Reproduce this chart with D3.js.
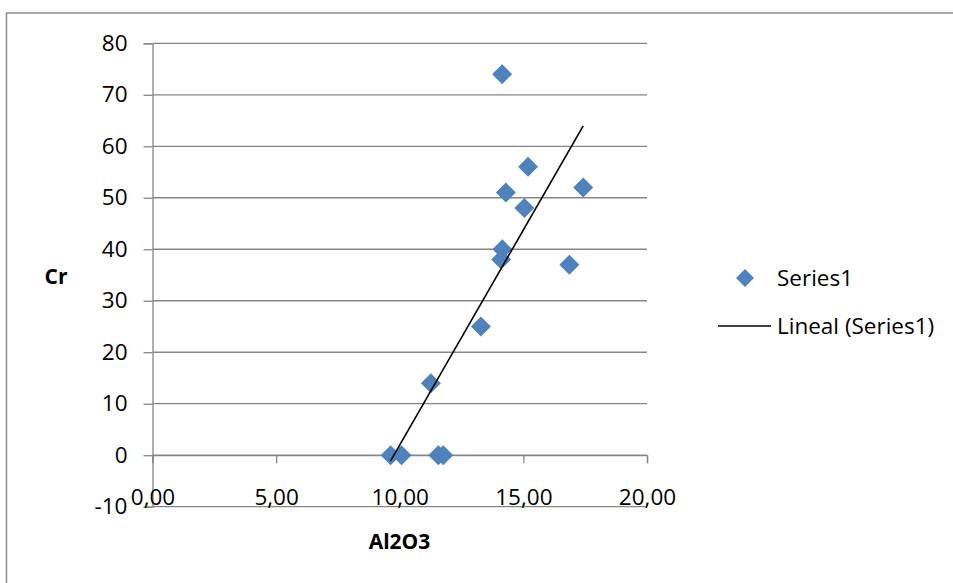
<!DOCTYPE html>
<html>
<head>
<meta charset="utf-8">
<script src="https://cdn.jsdelivr.net/npm/d3@7"></script>
<style>
  html, body { margin: 0; padding: 0; background: #fff; }
  svg { display: block; font-family: "Open Sans", sans-serif; }
</style>
</head>
<body>
<script>
// Al2O3 vs Cr samples
const al2o3 = [14.14, 15.19, 17.42, 14.29, 15.04, 14.15, 14.10, 16.86, 13.28, 11.26, 9.63, 10.07, 11.56, 11.76];
const cr    = [74, 56, 52, 51, 48, 40, 38, 37, 25, 14, 0, 0, 0, 0];

const xTicks = [0, 5, 10, 15, 20];
const yTicks = [-10, 0, 10, 20, 30, 40, 50, 60, 70, 80];
const seriesName = "Series1";
const trendName = "Lineal (Series1)";

const W = 953, H = 583;
const FONT = "'Open Sans', sans-serif";
const LABEL_SIZE = 22.5;
const svg = d3.select("body").append("svg").attr("width", W).attr("height", H);

// outer chart frame
svg.append("rect")
  .attr("x", 6.5).attr("y", 13).attr("width", W + 10).attr("height", H + 10)
  .attr("fill", "none").attr("stroke", "#8c8c8c").attr("stroke-width", 1.5);

const x = d3.scaleLinear().domain([0, 20]).range([152.5, 647]);
const y = d3.scaleLinear().domain([-10, 80]).range([506.7, 43.3]);

const gridColor = "#868686";

// horizontal gridlines
svg.append("g").selectAll("line").data(yTicks).join("line")
  .attr("x1", x(0)).attr("x2", x(20))
  .attr("y1", d => y(d)).attr("y2", d => y(d))
  .attr("stroke", gridColor).attr("stroke-width", 1.3);

// vertical axis with outside tick marks
const yAxis = svg.append("g").attr("transform", `translate(${x(0)},0)`)
  .call(d3.axisLeft(y).tickValues(yTicks).tickSize(9).tickFormat(d => String(d)));
yAxis.select(".domain").attr("stroke", gridColor).attr("stroke-width", 1.3);
yAxis.selectAll(".tick line").attr("stroke", gridColor).attr("stroke-width", 1.3);
yAxis.selectAll("text").attr("x", -25).attr("font-size", LABEL_SIZE).attr("fill", "#000")
  .attr("font-family", FONT);

// horizontal axis crosses at zero, labels sit at the bottom
const xAxis = svg.append("g").attr("transform", `translate(0,${y(0)})`)
  .call(d3.axisBottom(x).tickValues(xTicks).tickSize(8).tickFormat(d => d3.format(".2f")(d).replace(".", ",")));
xAxis.select(".domain").attr("stroke", gridColor).attr("stroke-width", 1.3);
xAxis.selectAll(".tick line").attr("stroke", gridColor).attr("stroke-width", 1.3);
xAxis.selectAll("text")
  .attr("y", y(-10) - y(0) - 10).attr("dy", "0.35em")
  .attr("font-size", LABEL_SIZE).attr("fill", "#000").attr("font-family", FONT);

// least-squares trendline across the data range
const n = al2o3.length;
const mx = d3.mean(al2o3), my = d3.mean(cr);
let sxy = 0, sxx = 0;
for (let i = 0; i < n; i++) { sxy += (al2o3[i] - mx) * (cr[i] - my); sxx += (al2o3[i] - mx) ** 2; }
const slope = sxy / sxx, intercept = my - slope * mx;
const [x0, x1] = d3.extent(al2o3);

// markers
const diamond = r => `M0,${-r}L${r},0L0,${r}L${-r},0Z`;
svg.append("g").selectAll("path").data(al2o3.map((v, i) => [v, cr[i]])).join("path")
  .attr("d", diamond(10))
  .attr("transform", d => `translate(${x(d[0])},${y(d[1])})`)
  .attr("fill", "#4f81bd");

svg.append("line")
  .attr("x1", x(x0)).attr("y1", y(slope * x0 + intercept))
  .attr("x2", x(x1)).attr("y2", y(slope * x1 + intercept))
  .attr("stroke", "#000").attr("stroke-width", 1.6);

// axis titles
svg.append("text").attr("x", 56).attr("y", 277).attr("dy", "0.35em")
  .attr("text-anchor", "middle").attr("font-size", 21).attr("font-weight", "bold").text("Cr");
svg.append("text").attr("x", 399.5).attr("y", 542).attr("dy", "0.35em")
  .attr("text-anchor", "middle").attr("font-size", 21).attr("font-weight", "bold").text("Al2O3");

// legend
const legend = svg.append("g").attr("font-size", LABEL_SIZE);
legend.append("path").attr("d", diamond(9)).attr("transform", "translate(745,278)").attr("fill", "#4f81bd");
legend.append("text").attr("x", 777).attr("y", 278).attr("dy", "0.35em").text(seriesName);
legend.append("line").attr("x1", 718).attr("x2", 771).attr("y1", 326).attr("y2", 326)
  .attr("stroke", "#000").attr("stroke-width", 1.6);
legend.append("text").attr("x", 777).attr("y", 326).attr("dy", "0.35em").text(trendName);
</script>
</body>
</html>
